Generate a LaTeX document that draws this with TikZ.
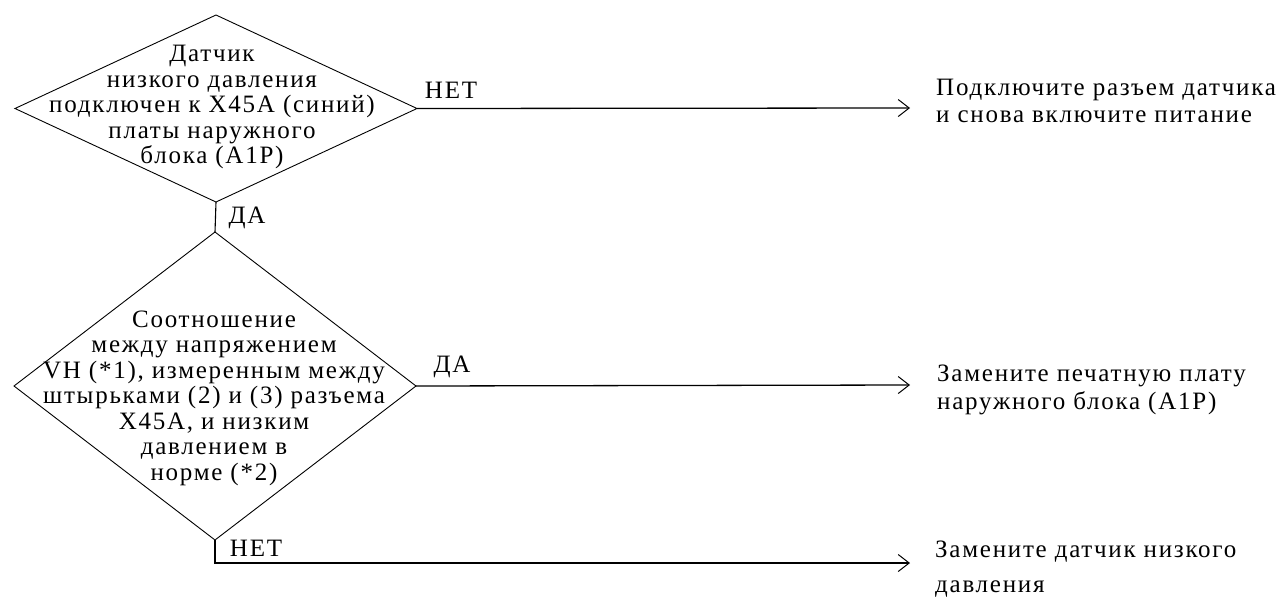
\documentclass[tikz,border=0pt]{standalone}
\usepackage{fontspec}
\setmainfont{Liberation Serif}[LetterSpace=7]
\usetikzlibrary{shapes.geometric,arrows.meta}
\tikzset{
  decision/.style={draw,shape=diamond,line width=0.9pt,inner sep=0pt,outer sep=0pt},
  flow/.style={line width=1.3pt,-{Straight Barb[length=11pt,width=17pt,line width=1pt]}},
  link/.style={line width=1.1pt},
  txt/.style={align=center,inner sep=0pt},
  answer/.style={align=left,anchor=west,inner sep=0pt},
  lbl/.style={inner sep=0pt}
}
\begin{document}
\begin{tikzpicture}[x=1pt,y=-1pt,font=\fontsize{25}{25.5}\selectfont]
  \path[use as bounding box] (0,0) rectangle (1282,598);
  % decisions
  \node[decision,minimum width=402pt,minimum height=187pt] (d1) at (216,108.5) {};
  \node[decision,minimum width=402pt,minimum height=308pt] (d2) at (215,386) {};
  \node[txt] (t1) at (212,107) {Датчик\\низкого давления\\подключен к X45A (синий)\\платы наружного\\блока (A1P)};
  \node[txt] (t2) at (214,398) {Соотношение\\между напряжением\\VH (*1), измеренным между\\штырьками (2) и (3) разъема\\X45A, и  низким\\давлением в\\норме (*2)};
  % actions
  \node[answer] (r1) at (936,101) {Подключите разъем датчика\\[2pt]и снова включите питание};
  \node[answer] (r2) at (937,390) {Замените печатную плату\\[2pt]наружного блока (A1P)};
  \node[answer] (r3) at (935,569) {Замените датчик  низкого\\[10pt]давления};
  % arrow ends
  \coordinate (e1) at (910,108);
  \coordinate (e2) at (910,385);
  \coordinate (e3) at (910,563);
  \draw[link] (d1.south) -- (d2.north);
  \draw[flow] (d1.east) -- (e1);
  \draw[flow] (d2.east) -- (e2);
  \draw[flow] (d2.south) |- (e3);
  % answers
  \node[lbl] (n1) at (451,90) {НЕТ};
  \node[lbl] (y1) at (247,218) {ДА};
  \node[lbl] (y2) at (452,367) {ДА};
  \node[lbl] (n2) at (256,548) {НЕТ};
\end{tikzpicture}
\end{document}
